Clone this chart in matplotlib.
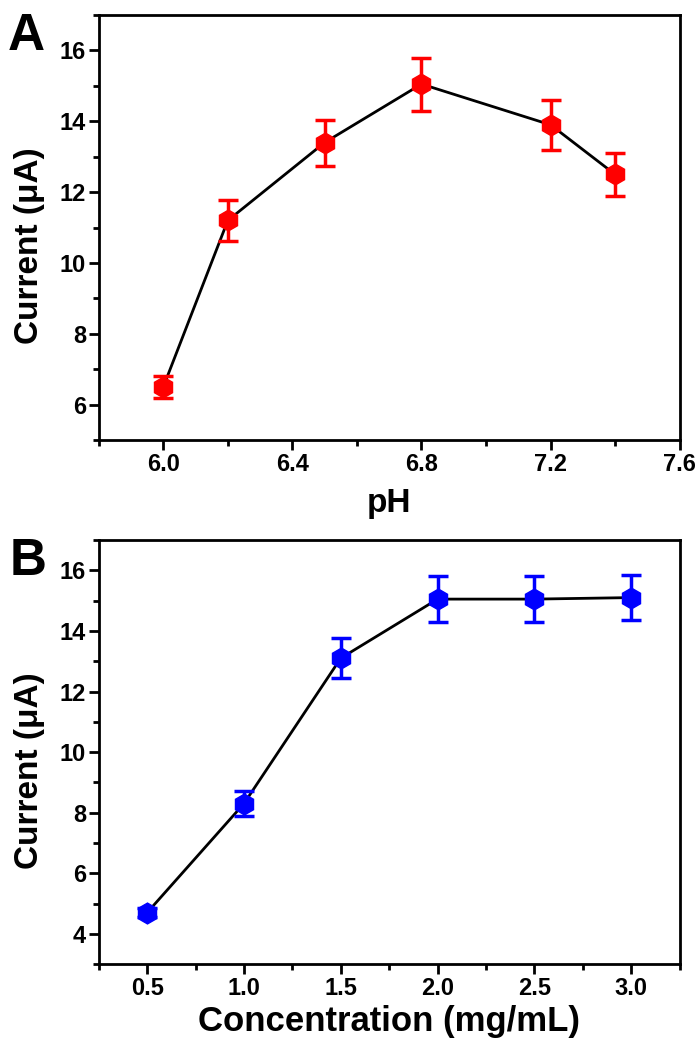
import matplotlib
matplotlib.use("Agg")
import matplotlib.pyplot as plt
from matplotlib.ticker import MultipleLocator

plt.rcParams['font.family'] = ['Liberation Sans', 'DejaVu Sans']
plt.rcParams['font.weight'] = 'bold'

# Panel A : effet du pH
ph = [6.0, 6.2, 6.5, 6.8, 7.2, 7.4]
current_ph = [6.5, 11.2, 13.4, 15.05, 13.9, 12.5]
err_ph = [0.3, 0.57, 0.65, 0.75, 0.7, 0.6]

# Panel B : effet de la concentration
conc = [0.5, 1.0, 1.5, 2.0, 2.5, 3.0]
current_conc = [4.7, 8.3, 13.1, 15.05, 15.05, 15.1]
err_conc = [0.15, 0.4, 0.65, 0.75, 0.75, 0.75]

fig = plt.figure(figsize=(7, 10.48), dpi=100)
axA = fig.add_axes([0.141, 0.580, 0.830, 0.4057])
axB = fig.add_axes([0.141, 0.080, 0.830, 0.4047])


def style(ax):
    for s in ax.spines.values():
        s.set_linewidth(2)
    ax.tick_params(which='both', direction='out', width=2, labelsize=17,
                   top=False, right=False, pad=2)
    ax.tick_params(which='major', length=7)
    ax.tick_params(which='minor', length=4)
    for lab in ax.get_xticklabels() + ax.get_yticklabels():
        lab.set_fontweight('bold')


# Graphique A
axA.plot(ph, current_ph, color='black', lw=2, zorder=1)
axA.errorbar(ph, current_ph, yerr=err_ph, fmt='h', color='#ff0000', ms=15,
             elinewidth=2.5, capsize=7, capthick=2.5, zorder=2)
axA.set_xlim(5.8, 7.6)
axA.set_ylim(5, 17)
axA.xaxis.set_minor_locator(MultipleLocator(0.2))
axA.yaxis.set_minor_locator(MultipleLocator(1))
axA.set_yticks([6, 8, 10, 12, 14, 16])
axA.set_xticks([6.0, 6.4, 6.8, 7.2, 7.6])
axA.set_xticklabels(['6.0', '6.4', '6.8', '7.2', '7.6'])
axA.set_xlabel('pH', fontsize=24, fontweight='bold', labelpad=9)
axA.set_ylabel('Current (μA)', fontsize=24, fontweight='bold')
axA.yaxis.set_label_coords(-0.093, 0.458)
style(axA)
fig.text(0.011, 0.952, 'A', fontsize=37, fontweight='bold', va='baseline')

# Graphique B
axB.plot(conc, current_conc, color='black', lw=2, zorder=1)
axB.errorbar(conc, current_conc, yerr=err_conc, fmt='h', color='#0000ff', ms=15,
             elinewidth=2.5, capsize=7, capthick=2.5, zorder=2)
axB.set_xlim(0.25, 3.25)
axB.set_ylim(3, 17)
axB.xaxis.set_minor_locator(MultipleLocator(0.25))
axB.yaxis.set_minor_locator(MultipleLocator(1))
axB.set_xticks(conc)
axB.set_xticklabels(['0.5', '1.0', '1.5', '2.0', '2.5', '3.0'])
axB.set_yticks([4, 6, 8, 10, 12, 14, 16])
axB.set_xlabel('Concentration (mg/mL)', fontsize=25, fontweight='bold', labelpad=4)
axB.set_ylabel('Current (μA)', fontsize=24, fontweight='bold')
axB.yaxis.set_label_coords(-0.093, 0.457)
style(axB)
fig.text(0.014, 0.4513, 'B', fontsize=37, fontweight='bold', va='baseline')

fig.savefig('out.png', dpi=100)
